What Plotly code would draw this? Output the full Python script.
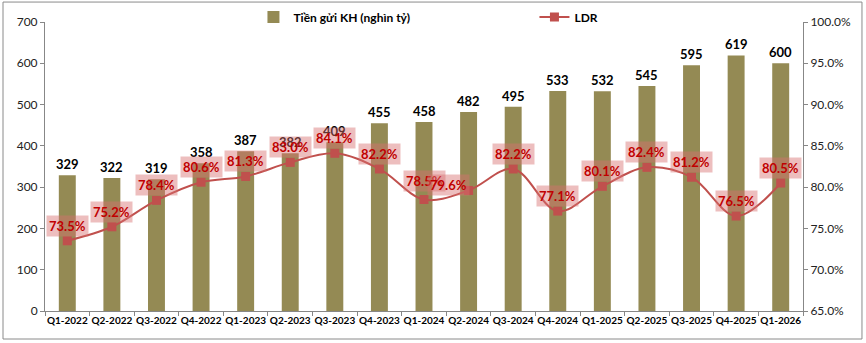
import plotly.graph_objects as go

categories = ["Q1-2022", "Q2-2022", "Q3-2022", "Q4-2022", "Q1-2023", "Q2-2023", "Q3-2023",
              "Q4-2023", "Q1-2024", "Q2-2024", "Q3-2024", "Q4-2024", "Q1-2025", "Q2-2025",
              "Q3-2025", "Q4-2025", "Q1-2026"]
deposits = [329, 322, 319, 358, 387, 382, 409, 455, 458, 482, 495, 533, 532, 545, 595, 619, 600]
ldr = [73.5, 75.2, 78.4, 80.6, 81.3, 83.0, 84.1, 82.2, 78.5, 79.6, 82.2, 77.1, 80.1, 82.4, 81.2, 76.5, 80.5]
left_ticks = [0, 100, 200, 300, 400, 500, 600, 700]
right_ticks = [65, 70, 75, 80, 85, 90, 95, 100]

FONT = "Lato"
BAR_COLOR = "#948A54"
LINE_COLOR = "#C0504D"
AXIS_COLOR = "#878787"

# label offsets (pixels) for LDR labels: default above the marker
label_dx = [0] * len(categories)
label_dy = [15] * len(categories)
label_dy[8] = 19      # Q1-2024
label_dx[9] = -20     # Q2-2024 label nudged left, over Q1-2024
label_dy[9] = 5

fig = go.Figure()
fig.add_trace(go.Bar(
    x=categories, y=deposits, name="Tiền gửi KH (nghìn tỷ)",
    marker=dict(color=BAR_COLOR, line=dict(width=0)), width=0.38,
))
fig.add_trace(go.Scatter(
    x=categories, y=ldr, name="LDR", yaxis="y2", mode="lines+markers",
    line=dict(color=LINE_COLOR, width=2, shape="spline", smoothing=1),
    marker=dict(symbol="square", size=9, color=LINE_COLOR),
))

annotations = []
for c, v in zip(categories, deposits):
    annotations.append(dict(
        x=c, y=v, xref="x", yref="y", text=f"<b>{v}</b>", showarrow=False,
        yanchor="bottom", yshift=1, font=dict(family=FONT, size=13, color="#000000"),
    ))
for i, (c, v) in enumerate(zip(categories, ldr)):
    annotations.append(dict(
        x=c, y=v, xref="x", yref="y2", text=f"<b>{v:.1f}%</b>", showarrow=False,
        yanchor="middle", yshift=label_dy[i], xshift=label_dx[i],
        font=dict(family=FONT, size=13, color="#C00000"),
        bgcolor="rgba(215,110,110,0.45)", borderpad=2,
    ))

fig.update_layout(
    width=866, height=343,
    margin=dict(l=45, r=63, t=22, b=32, autoexpand=False),
    paper_bgcolor="white", plot_bgcolor="white",
    font=dict(family=FONT, size=12, color="#222222"),
    bargap=0.62,
    showlegend=True,
    legend=dict(orientation="h", x=0.275, xanchor="left", y=1.017, yanchor="middle",
                font=dict(family=FONT, size=12, color="#000000", weight="bold"),
                entrywidth=236, entrywidthmode="pixels", bgcolor="rgba(0,0,0,0)",
                traceorder="normal"),
    xaxis=dict(type="category", range=[-0.5, len(categories) - 0.5], autorange=False,
               showline=True, linecolor=AXIS_COLOR, linewidth=1,
               ticks="outside", tickson="boundaries", ticklen=4, tickcolor=AXIS_COLOR,
               tickangle=0, automargin=False,
               tickfont=dict(family=FONT, size=10, color="#000000", weight="bold"),
               showgrid=False),
    yaxis=dict(range=[0, 700], tickvals=left_ticks, showline=True, linecolor=AXIS_COLOR,
               ticks="outside", ticklen=4, tickcolor=AXIS_COLOR, showgrid=False, zeroline=False,
               automargin=False, tickfont=dict(family=FONT, size=12, color="#222222")),
    yaxis2=dict(range=[65, 100], tickvals=right_ticks, overlaying="y", side="right",
                ticktext=[f"{t:.1f}%" for t in right_ticks], tickmode="array",
                showline=True, linecolor=AXIS_COLOR, ticks="outside", ticklen=4,
                tickcolor=AXIS_COLOR, showgrid=False, zeroline=False, automargin=False,
                tickfont=dict(family=FONT, size=12, color="#222222")),
    annotations=annotations,
    shapes=[dict(type="rect", xref="paper", yref="paper", x0=-0.0554, x1=1.0778,
                 y0=-0.0969, y1=1.069, line=dict(color="#8a8a8a", width=1), layer="below")],
)

fig.write_html("out.html")
